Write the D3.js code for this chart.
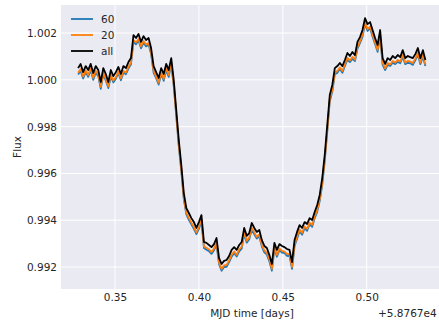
<!DOCTYPE html>
<html>
<head>
<meta charset="utf-8">
<script src="https://cdn.jsdelivr.net/npm/d3@7"></script>
<style>
  html, body { margin: 0; padding: 0; background: #ffffff; }
  svg { display: block; }
  text { font-family: "DejaVu Sans", sans-serif; fill: #262626; }
</style>
</head>
<body>
<svg id="chart" width="439" height="322"></svg>
<script>
// Sample times (fractional MJD, offset below) and normalised flux per cadence set
const mjdOffsetLabel = "+5.8767e4";
const times = [
  0.3280,0.3295,0.3310,0.3325,0.3340,0.3355,0.3370,0.3385,0.3400,0.3415,
  0.3430,0.3445,0.3460,0.3475,0.3490,0.3505,0.3520,0.3535,0.3550,0.3565,
  0.3580,0.3595,0.3610,0.3625,0.3640,0.3655,0.3670,0.3685,0.3700,0.3715,
  0.3730,0.3745,0.3760,0.3775,0.3790,0.3805,0.3820,0.3835,0.3850,0.3865,
  0.3880,0.3895,0.3910,0.3925,0.3940,0.3955,0.3970,0.3985,0.4000,0.4015,
  0.4030,0.4045,0.4060,0.4075,0.4090,0.4105,0.4120,0.4135,0.4150,0.4165,
  0.4180,0.4195,0.4210,0.4225,0.4240,0.4255,0.4270,0.4285,0.4300,0.4315,
  0.4330,0.4345,0.4360,0.4375,0.4390,0.4405,0.4420,0.4435,0.4450,0.4465,
  0.4480,0.4495,0.4510,0.4525,0.4540,0.4555,0.4570,0.4585,0.4600,0.4615,
  0.4630,0.4645,0.4660,0.4675,0.4690,0.4705,0.4720,0.4735,0.4750,0.4765,
  0.4780,0.4795,0.4810,0.4825,0.4840,0.4855,0.4870,0.4885,0.4900,0.4915,
  0.4930,0.4945,0.4960,0.4975,0.4990,0.5005,0.5020,0.5035,0.5050,0.5065,
  0.5080,0.5095,0.5110,0.5125,0.5140,0.5155,0.5170,0.5185,0.5200,0.5215,
  0.5230,0.5245,0.5260,0.5275,0.5290,0.5305,0.5320,0.5335,0.5350
];

const flux60 = [
  1.00023,1.00038,1.00006,1.00033,1.00013,1.00042,1.00000,1.00031,1.00016,0.99962,
  1.00024,0.99997,0.99965,1.00014,0.99989,1.00005,1.00029,0.99998,1.00031,1.00024,
  1.00048,1.00067,1.00163,1.00152,1.00168,1.00135,1.00159,1.00143,1.00151,1.00110,
  1.00030,1.00007,0.99980,1.00024,0.99996,1.00042,1.00013,1.00067,0.99973,0.99845,
  0.99717,0.99610,0.99489,0.99425,0.99402,0.99383,0.99363,0.99341,0.99363,0.99396,
  0.99281,0.99274,0.99268,0.99256,0.99272,0.99295,0.99212,0.99184,0.99200,0.99201,
  0.99221,0.99244,0.99259,0.99245,0.99267,0.99279,0.99341,0.99304,0.99319,0.99360,
  0.99340,0.99322,0.99331,0.99287,0.99263,0.99253,0.99224,0.99184,0.99277,0.99244,
  0.99272,0.99261,0.99259,0.99248,0.99247,0.99192,0.99289,0.99321,0.99353,0.99338,
  0.99366,0.99355,0.99383,0.99372,0.99409,0.99436,0.99482,0.99551,0.99653,0.99778,
  0.99909,0.99949,1.00024,1.00030,1.00046,1.00030,1.00059,1.00086,1.00076,1.00090,
  1.00080,1.00133,1.00157,1.00184,1.00238,1.00209,1.00221,1.00184,1.00153,1.00120,
  1.00187,1.00064,1.00042,1.00064,1.00059,1.00073,1.00067,1.00077,1.00071,1.00098,
  1.00067,1.00073,1.00071,1.00064,1.00084,1.00107,1.00067,1.00098,1.00059
];

const flux20 = [
  1.00030,1.00046,1.00014,1.00040,1.00021,1.00049,1.00008,1.00038,1.00023,0.99970,
  1.00031,1.00004,0.99972,1.00021,0.99997,1.00012,1.00036,1.00006,1.00038,1.00031,
  1.00055,1.00074,1.00170,1.00160,1.00175,1.00143,1.00166,1.00151,1.00158,1.00117,
  1.00038,1.00014,0.99988,1.00031,1.00004,1.00049,1.00021,1.00074,0.99980,0.99852,
  0.99724,0.99617,0.99496,0.99432,0.99410,0.99390,0.99371,0.99348,0.99371,0.99403,
  0.99288,0.99282,0.99275,0.99264,0.99279,0.99303,0.99219,0.99192,0.99207,0.99209,
  0.99228,0.99252,0.99266,0.99252,0.99275,0.99286,0.99348,0.99312,0.99326,0.99367,
  0.99348,0.99329,0.99339,0.99294,0.99271,0.99260,0.99232,0.99192,0.99284,0.99252,
  0.99279,0.99269,0.99266,0.99256,0.99254,0.99200,0.99296,0.99329,0.99360,0.99346,
  0.99373,0.99363,0.99390,0.99380,0.99416,0.99444,0.99489,0.99559,0.99660,0.99786,
  0.99916,0.99957,1.00031,1.00038,1.00053,1.00038,1.00066,1.00094,1.00083,1.00098,
  1.00087,1.00141,1.00164,1.00192,1.00245,1.00217,1.00228,1.00192,1.00160,1.00128,
  1.00194,1.00072,1.00049,1.00072,1.00066,1.00081,1.00074,1.00085,1.00078,1.00106,
  1.00074,1.00081,1.00078,1.00072,1.00091,1.00115,1.00074,1.00106,1.00066
];

const fluxAll = [
  1.00050,1.00068,1.00033,1.00059,1.00042,1.00068,1.00029,1.00059,1.00042,0.99991,
  1.00050,1.00025,0.99991,1.00042,1.00016,1.00033,1.00055,1.00025,1.00059,1.00050,
  1.00076,1.00093,1.00191,1.00179,1.00196,1.00162,1.00187,1.00170,1.00179,1.00136,
  1.00059,1.00033,1.00008,1.00050,1.00025,1.00068,1.00042,1.00093,0.99999,0.99871,
  0.99743,0.99636,0.99516,0.99452,0.99431,0.99409,0.99392,0.99367,0.99392,0.99422,
  0.99307,0.99303,0.99294,0.99285,0.99298,0.99324,0.99238,0.99213,0.99226,0.99230,
  0.99247,0.99273,0.99285,0.99273,0.99294,0.99307,0.99367,0.99333,0.99345,0.99388,
  0.99367,0.99350,0.99358,0.99315,0.99290,0.99281,0.99251,0.99213,0.99303,0.99273,
  0.99298,0.99290,0.99285,0.99277,0.99273,0.99221,0.99315,0.99350,0.99379,0.99367,
  0.99392,0.99384,0.99409,0.99401,0.99435,0.99465,0.99508,0.99580,0.99679,0.99807,
  0.99935,0.99978,1.00050,1.00059,1.00072,1.00059,1.00085,1.00115,1.00102,1.00119,
  1.00106,1.00162,1.00183,1.00213,1.00264,1.00238,1.00247,1.00213,1.00179,1.00149,
  1.00213,1.00093,1.00068,1.00093,1.00085,1.00102,1.00093,1.00106,1.00097,1.00127,
  1.00093,1.00102,1.00097,1.00093,1.00110,1.00136,1.00093,1.00127,1.00085
];

const seriesNames = ["60", "20", "all"];
const seriesColors = ["#1f77b4", "#ff7f0e", "#000000"];
const xTicks = [0.35, 0.40, 0.45, 0.50];
const yTicks = [0.992, 0.994, 0.996, 0.998, 1.000, 1.002];

const svg = d3.select("#chart");
const plot = { left: 61, top: 5, right: 439, bottom: 289 };

const x = d3.scaleLinear().domain([0.3178, 0.5431]).range([plot.left, plot.right]);
const y = d3.scaleLinear().domain([0.99106, 1.0032]).range([plot.bottom, plot.top]);

// axes background
svg.append("rect")
  .attr("x", plot.left).attr("y", plot.top)
  .attr("width", plot.right - plot.left).attr("height", plot.bottom - plot.top)
  .attr("fill", "#eaeaf2");

svg.append("defs").append("clipPath").attr("id", "clip")
  .append("rect")
  .attr("x", plot.left).attr("y", plot.top)
  .attr("width", plot.right - plot.left).attr("height", plot.bottom - plot.top);

// grid lines
const grid = svg.append("g");
grid.selectAll(".vg").data(xTicks).join("line")
  .attr("x1", d => x(d)).attr("x2", d => x(d))
  .attr("y1", plot.top).attr("y2", plot.bottom)
  .attr("stroke", "#ffffff").attr("stroke-width", 1);
grid.selectAll(".hg").data(yTicks).join("line")
  .attr("y1", d => y(d)).attr("y2", d => y(d))
  .attr("x1", plot.left).attr("x2", plot.right)
  .attr("stroke", "#ffffff").attr("stroke-width", 1);

// tick labels via d3 axes (no tick marks, no domain line)
const xAxis = svg.append("g")
  .attr("transform", `translate(0,${plot.bottom})`)
  .call(d3.axisBottom(x).tickValues(xTicks).tickFormat(d3.format(".2f")).tickSize(0).tickPadding(5));
const yAxis = svg.append("g")
  .attr("transform", `translate(${plot.left},0)`)
  .call(d3.axisLeft(y).tickValues(yTicks).tickFormat(d3.format(".3f")).tickSize(0).tickPadding(4));
[xAxis, yAxis].forEach(g => {
  g.select(".domain").remove();
  g.selectAll("text")
    .attr("fill", "#262626")
    .style("font-family", "'DejaVu Sans', sans-serif")
    .style("font-size", "10.5px");
});

// flux curves
const line = d3.line().x(d => x(d[0])).y(d => y(d[1]));
const allSeries = [flux60, flux20, fluxAll];
const lines = svg.append("g").attr("clip-path", "url(#clip)");
allSeries.forEach((vals, i) => {
  lines.append("path")
    .datum(times.map((t, k) => [t, vals[k]]))
    .attr("d", line)
    .attr("fill", "none")
    .attr("stroke", seriesColors[i])
    .attr("stroke-width", 1.8)
    .attr("stroke-linejoin", "round");
});

// axis titles
svg.append("text")
  .attr("x", 252).attr("y", 317)
  .attr("text-anchor", "middle")
  .style("font-size", "10.5px")
  .text("MJD time [days]");
svg.append("text")
  .attr("x", 378).attr("y", 317)
  .style("font-size", "10.5px")
  .text(mjdOffsetLabel);
svg.append("text")
  .attr("transform", `translate(21,${(plot.top + plot.bottom) / 2}) rotate(-90)`)
  .attr("text-anchor", "middle")
  .style("font-size", "10.5px")
  .text("Flux");

// legend
const legend = svg.append("g");
seriesNames.forEach((name, i) => {
  const ly = 19 + i * 16;
  legend.append("line")
    .attr("x1", 71).attr("x2", 93).attr("y1", ly).attr("y2", ly)
    .attr("stroke", seriesColors[i]).attr("stroke-width", 1.8);
  legend.append("text")
    .attr("x", 101).attr("y", ly + 4)
    .style("font-size", "10.5px")
    .text(name);
});
</script>
</body>
</html>
